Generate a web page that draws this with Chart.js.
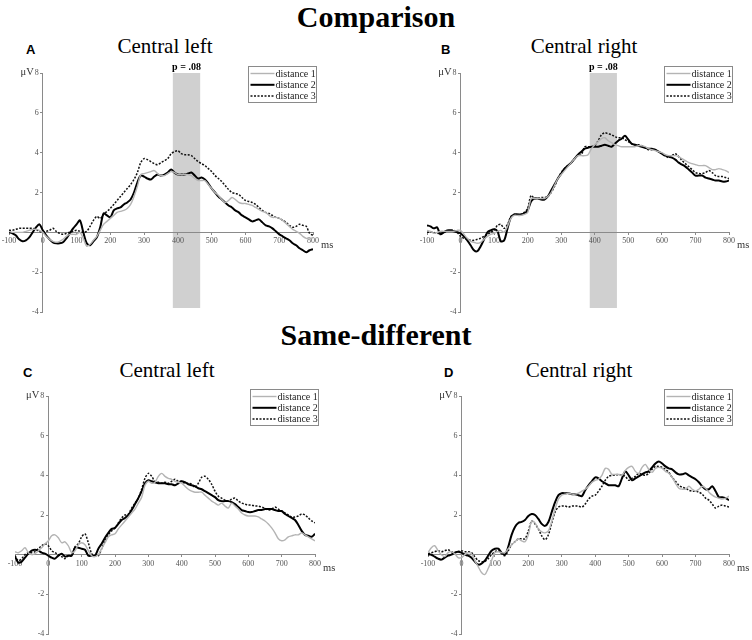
<!DOCTYPE html>
<html>
<head>
<meta charset="utf-8">
<script src="https://cdn.jsdelivr.net/npm/chart.js@4/dist/chart.umd.min.js"></script>
<style>
  html, body { margin:0; padding:0; background:#fff; width:752px; height:640px; overflow:hidden; }
  .wrap { position:absolute; }
  .big { position:absolute; left:0; width:752px; text-align:center; font-family:"Liberation Serif", serif; font-weight:bold; font-size:30px; line-height:30px; color:#000; }
  .ptitle { position:absolute; width:200px; text-align:center; font-family:"Liberation Serif", serif; font-size:21px; line-height:21px; color:#000; }
  .letter { position:absolute; font-family:"Liberation Sans", Arial, sans-serif; font-weight:bold; font-size:13px; line-height:13px; color:#000; }
</style>
</head>
<body>
<div class="big" style="top:2px;">Comparison</div>
<div class="big" style="top:320px;">Same-different</div>
<div class="letter" style="left:26px; top:43px;">A</div>
<div class="letter" style="left:441px; top:43px;">B</div>
<div class="letter" style="left:23px; top:366px;">C</div>
<div class="letter" style="left:444px; top:366px;">D</div>
<div class="ptitle" style="left:65px; top:36px;">Central left</div>
<div class="ptitle" style="left:484px; top:36px;">Central right</div>
<div class="ptitle" style="left:67px; top:360px;">Central left</div>
<div class="ptitle" style="left:479px; top:360px;">Central right</div>

<div class="wrap" style="left:-11px; top:48px; width:364px; height:284px;"><canvas id="cA"></canvas></div>
<div class="wrap" style="left:407px; top:48px; width:362px; height:284px;"><canvas id="cB"></canvas></div>
<div class="wrap" style="left:-5px; top:371px; width:360px; height:283px;"><canvas id="cC"></canvas></div>
<div class="wrap" style="left:408px; top:371px; width:361px; height:283px;"><canvas id="cD"></canvas></div>

<script>
// ---------- data ----------
const times = [-100,-90,-80,-70,-60,-50,-40,-30,-20,-10,
  0,10,20,30,40,50,60,70,80,90,
  100,110,120,130,140,150,160,170,180,190,
  200,210,220,230,240,250,260,270,280,290,
  300,310,320,330,340,350,360,370,380,390,
  400,410,420,430,440,450,460,470,480,490,
  500,510,520,530,540,550,560,570,580,590,
  600,610,620,630,640,650,660,670,680,690,
  700,710,720,730,740,750,760,770,780,790,
  800];

const seriesNames = ["distance 1", "distance 2", "distance 3"];
const xTicks = [-100,0,100,200,300,400,500,600,700,800];
const yTicks = [-4,-2,0,2,4,6,8];
const sigWindow = [385, 466];   // shaded interval (ms)
const sigLabel = "p = .08";

// Panel A: Comparison, central left
const compLeft1 = [0.05,0.0,0.0,0.0,0.0,0.05,0.1,0.15,0.15,0.1,
  0.0,-0.2,-0.35,-0.45,-0.5,-0.45,-0.35,-0.2,-0.1,-0.1,
  -0.1,0.0,-0.3,-0.7,-0.6,-0.4,-0.2,0.1,0.4,0.55,
  0.7,0.85,1.0,1.05,1.1,1.2,1.4,1.8,2.3,2.9,
  2.95,3.0,3.05,3.1,2.95,2.85,2.85,2.95,3.05,3.0,
  2.9,2.9,2.9,2.9,2.85,2.7,2.6,2.6,2.6,2.4,
  2.2,2.0,1.85,1.65,1.5,1.6,1.75,1.65,1.5,1.45,
  1.45,1.4,1.35,1.25,1.15,1.05,1.0,0.85,0.75,0.75,
  0.7,0.6,0.45,0.3,0.15,0.05,-0.05,-0.2,-0.3,-0.35,
  -0.25];
const compLeft2 = [0.0,-0.05,-0.15,-0.35,-0.45,-0.4,-0.25,0.0,0.25,0.4,
  0.1,-0.15,-0.35,-0.5,-0.55,-0.55,-0.5,-0.3,-0.05,0.2,
  0.4,0.6,0.0,-0.55,-0.65,-0.45,-0.25,0.25,0.95,0.85,
  0.75,1.1,1.2,1.25,1.4,1.5,1.65,2.0,2.5,2.85,
  2.8,2.7,2.65,2.8,2.9,2.85,2.9,3.0,3.15,3.0,
  2.9,2.9,2.9,2.95,3.0,2.85,2.7,2.75,2.65,2.45,
  2.2,2.0,1.8,1.65,1.5,1.35,1.25,1.1,1.0,0.85,
  0.75,0.65,0.55,0.6,0.65,0.5,0.35,0.3,0.2,0.05,
  -0.1,-0.2,-0.3,-0.4,-0.55,-0.65,-0.8,-0.9,-1.0,-0.9,
  -0.85];
const compLeft3 = [0.1,0.1,0.15,0.2,0.2,0.2,0.2,0.2,0.15,0.05,
  0.0,0.05,0.1,0.2,0.05,-0.05,-0.1,-0.05,0.0,0.05,
  0.1,0.05,0.0,0.05,0.3,0.6,0.8,0.7,0.9,1.05,
  1.2,1.4,1.6,1.8,2.0,2.2,2.4,2.65,3.0,3.5,
  3.7,3.65,3.55,3.45,3.4,3.5,3.6,3.7,3.95,4.05,
  4.1,3.95,3.9,3.9,3.85,3.7,3.55,3.45,3.35,3.2,
  3.05,2.85,2.7,2.55,2.35,2.15,2.0,1.95,1.9,1.75,
  1.6,1.55,1.5,1.4,1.25,1.1,1.0,0.95,0.85,0.75,
  0.7,0.6,0.5,0.35,0.25,0.3,0.4,0.35,0.3,-0.05,
  -0.15];

// Panel B: Comparison, central right
const compRight1 = [0.1,0.05,-0.05,0.0,0.05,0.05,0.05,0.05,0.05,0.1,
  0.1,-0.1,-0.3,-0.45,-0.5,-0.55,-0.5,-0.35,-0.2,-0.1,
  -0.05,0.05,0.1,0.0,0.3,0.7,0.85,0.85,0.85,0.9,
  1.0,1.7,1.7,1.7,1.7,1.7,1.8,2.0,2.35,2.7,
  2.9,3.1,3.3,3.5,3.7,3.85,3.85,3.85,3.9,4.2,
  4.4,4.55,4.7,4.75,4.6,4.5,4.4,4.35,4.3,4.3,
  4.3,4.3,4.3,4.35,4.35,4.3,4.2,4.15,4.1,4.05,
  4.0,3.9,3.85,3.85,3.85,3.8,3.7,3.6,3.5,3.45,
  3.4,3.35,3.35,3.35,3.25,3.15,3.15,3.2,3.15,3.1,
  3.0];
const compRight2 = [0.35,0.3,0.2,0.25,-0.1,0.0,0.1,0.1,0.05,0.0,
  -0.05,-0.2,-0.4,-0.65,-0.9,-0.95,-0.7,-0.35,0.0,0.1,
  0.15,0.05,-0.45,-0.4,0.2,0.75,0.9,0.9,0.9,0.95,
  1.1,1.55,1.7,1.7,1.65,1.65,1.8,2.1,2.4,2.7,
  2.95,3.2,3.35,3.5,3.7,3.9,4.05,4.2,4.25,4.3,
  4.3,4.3,4.35,4.4,4.35,4.3,4.45,4.6,4.7,4.85,
  4.65,4.45,4.4,4.35,4.3,4.25,4.2,4.2,4.15,4.05,
  3.95,3.85,3.8,3.75,3.65,3.5,3.4,3.3,3.15,3.0,
  2.85,2.85,2.85,2.75,2.7,2.65,2.6,2.6,2.55,2.55,
  2.6];
const compRight3 = [0.0,0.0,0.0,-0.05,-0.05,0.0,0.05,0.1,0.1,0.0,
  -0.2,-0.3,-0.35,-0.4,-0.4,-0.35,-0.3,-0.2,-0.1,0.0,
  0.1,0.35,0.4,0.2,0.4,0.8,0.9,0.9,0.9,1.0,
  1.2,1.85,1.7,1.7,1.75,1.75,1.8,2.0,2.3,2.7,
  3.0,3.2,3.35,3.5,3.7,3.85,3.9,4.3,4.3,4.3,
  4.35,4.6,4.9,5.0,4.95,4.9,4.8,4.75,4.75,4.65,
  4.55,4.45,4.4,4.4,4.35,4.25,4.15,4.15,4.15,4.05,
  3.95,3.85,3.75,3.85,3.95,3.8,3.6,3.45,3.3,3.15,
  3.0,2.95,2.95,3.0,3.1,3.0,2.85,2.8,2.8,2.75,
  2.7];

// Panel C: Same-different, central left
const sdLeft1 = [0.15,0.1,0.2,0.35,0.1,0.0,0.05,0.2,0.35,0.55,
  0.7,0.95,1.0,0.85,0.6,0.65,0.45,0.1,0.2,0.5,
  0.6,0.5,0.2,-0.05,-0.1,0.0,0.3,0.6,0.9,1.0,
  1.05,1.3,1.5,1.7,1.9,2.1,2.3,2.6,2.9,3.5,
  3.7,3.6,3.65,3.95,4.1,3.95,3.85,3.8,3.7,3.65,
  3.6,3.45,3.3,3.2,3.15,3.15,3.15,3.0,2.85,2.7,
  2.6,2.5,2.6,2.45,2.35,2.6,2.45,2.3,2.1,2.0,
  1.95,1.95,1.95,1.9,1.8,1.7,1.55,1.35,1.1,0.8,
  0.7,0.75,0.9,0.95,1.0,1.0,1.1,1.0,0.9,0.8,
  0.7];
const sdLeft2 = [-0.1,-0.4,-0.35,-0.15,0.05,0.2,0.25,0.2,0.1,0.05,
  -0.05,-0.15,-0.2,-0.05,0.05,-0.1,-0.05,-0.05,0.35,0.35,
  0.3,0.25,-0.05,-0.05,-0.05,0.3,0.55,0.85,1.1,1.3,
  1.35,1.55,1.75,1.85,2.0,2.25,2.55,2.85,3.2,3.6,
  3.75,3.7,3.65,3.6,3.6,3.6,3.55,3.55,3.5,3.6,
  3.7,3.65,3.55,3.5,3.45,3.35,3.3,3.2,3.1,3.0,
  2.9,2.75,2.7,2.7,2.7,2.65,2.55,2.4,2.25,2.2,
  2.15,2.15,2.2,2.25,2.25,2.3,2.3,2.3,2.25,2.2,
  2.2,2.05,1.95,1.85,1.75,1.5,1.2,1.0,0.95,0.9,
  1.05];
const sdLeft3 = [-0.05,-0.3,-0.2,0.0,0.1,0.1,0.15,0.3,0.45,0.55,
  0.45,0.2,0.1,0.0,-0.1,-0.2,-0.05,-0.05,0.4,0.55,
  0.9,1.05,0.6,0.05,-0.05,-0.05,0.3,0.7,1.0,1.2,
  1.35,1.6,1.85,2.0,2.05,2.35,2.6,2.85,3.3,3.85,
  4.1,3.95,3.7,3.65,3.6,3.65,3.6,3.7,3.8,3.7,
  3.7,3.6,3.6,3.55,3.4,3.6,3.9,3.95,3.8,3.55,
  3.2,2.95,2.85,2.75,2.7,2.8,2.85,2.7,2.6,2.55,
  2.5,2.5,2.45,2.45,2.4,2.35,2.25,2.3,2.4,2.3,
  2.2,2.1,2.0,1.9,1.9,1.95,2.05,2.0,1.85,1.7,
  1.6];

// Panel D: Same-different, central right
const sdRight1 = [0.1,0.35,0.45,0.2,0.0,-0.1,0.1,0.15,0.05,-0.15,
  -0.15,0.0,0.1,0.05,-0.3,-0.6,-0.9,-1.0,-0.7,-0.3,
  0.1,0.15,0.1,0.1,0.3,0.5,0.65,0.8,0.7,0.65,
  1.0,1.7,1.6,1.3,1.15,1.1,1.2,1.7,2.3,2.8,
  3.0,3.05,3.1,3.05,3.05,3.1,3.2,3.3,3.45,3.65,
  3.75,3.8,4.0,4.35,4.3,4.05,4.05,4.05,4.0,4.25,
  4.4,4.45,4.2,4.1,4.4,4.55,4.3,4.15,4.35,4.4,
  4.35,4.2,4.1,3.9,3.6,3.35,3.3,3.3,3.45,3.3,
  3.2,3.3,3.45,3.35,3.15,3.0,2.9,2.85,2.8,2.85,
  2.95];
const sdRight2 = [0.0,0.0,-0.1,-0.2,-0.25,-0.15,-0.05,0.0,0.1,0.15,
  0.1,0.0,-0.05,-0.15,-0.35,-0.5,-0.45,-0.3,-0.05,0.2,
  0.3,0.3,0.1,0.0,0.4,1.0,1.4,1.6,1.65,1.75,
  1.95,2.05,2.0,1.8,1.55,1.45,1.65,2.15,2.65,3.0,
  3.1,3.1,3.1,3.05,3.05,3.0,2.95,3.25,3.5,3.7,
  3.9,3.85,3.7,3.6,3.5,3.5,3.5,3.45,3.85,4.2,
  4.0,3.75,3.85,3.95,4.05,4.15,4.2,4.4,4.6,4.7,
  4.6,4.45,4.35,4.3,4.15,4.05,4.05,4.1,4.0,3.9,
  3.8,3.65,3.45,3.3,3.3,3.45,3.2,2.9,2.9,2.85,
  2.75];
const sdRight3 = [0.05,0.1,0.15,0.2,0.15,0.2,0.25,0.15,0.1,0.15,
  0.2,0.15,0.15,0.1,-0.1,-0.3,-0.35,-0.35,-0.2,0.0,
  0.15,0.2,0.05,-0.05,0.2,0.5,0.65,0.8,0.8,0.8,
  1.2,1.7,1.55,1.3,0.95,0.75,1.0,1.6,2.15,2.4,
  2.45,2.45,2.4,2.45,2.45,2.45,2.4,2.55,2.8,2.95,
  3.0,3.2,3.45,3.75,3.95,4.0,4.0,4.05,4.0,3.95,
  3.75,3.85,3.95,4.1,4.05,4.0,4.1,4.3,4.45,4.45,
  4.4,4.3,4.15,3.9,3.7,3.5,3.4,3.35,3.25,3.2,
  3.2,3.15,3.05,2.85,2.75,2.55,2.35,2.45,2.5,2.45,
  2.4];

// ---------- styles ----------
const lineStyles = [
  { borderColor: "#b4b4b4", borderWidth: 1.4, borderDash: [] },
  { borderColor: "#000000", borderWidth: 2.0, borderDash: [] },
  { borderColor: "#111111", borderWidth: 1.5, borderDash: [2, 1.5] }
];

const decor = {
  id: "decor",
  beforeDraw(chart, args, opts) {
    const ctx = chart.ctx, xs = chart.scales.x, ys = chart.scales.y;
    if (opts.sig) {
      const x0 = xs.getPixelForValue(opts.sig[0]), x1 = xs.getPixelForValue(opts.sig[1]);
      const y0 = ys.getPixelForValue(8), y1 = ys.getPixelForValue(-3.8);
      ctx.save();
      ctx.fillStyle = "#d0d0d0";
      ctx.fillRect(x0, y0, x1 - x0, y1 - y0);
      ctx.restore();
    }
  },
  afterDraw(chart, args, opts) {
    const ctx = chart.ctx, xs = chart.scales.x, ys = chart.scales.y, ca = chart.chartArea;
    ctx.save();
    const yTop = ys.getPixelForValue(8);
    const x0 = xs.getPixelForValue(0);
    if (opts.sig) {
      const xm = (xs.getPixelForValue(opts.sig[0]) + xs.getPixelForValue(opts.sig[1])) / 2;
      ctx.font = "bold 10px 'Liberation Serif'";
      ctx.fillStyle = "#000";
      ctx.textAlign = "center";
      ctx.textBaseline = "alphabetic";
      ctx.fillText(opts.sigLabel, xm, yTop - 3);
    }
    ctx.font = "10.5px 'Liberation Serif'";
    ctx.fillStyle = "#333";
    ctx.textAlign = "right";
    ctx.textBaseline = "alphabetic";
    ctx.fillText("\u03bcV", x0 - 9, yTop + 2);
    ctx.textAlign = "left";
    ctx.fillText("ms", xs.getPixelForValue(800) + 8, ys.getPixelForValue(0) + 16);
    const w = 68, h = 36;
    const bx = Math.round(ca.right + 3) + 0.5 - w, by = Math.round(ca.top - 7) + 0.5;
    ctx.fillStyle = "#fff";
    ctx.fillRect(bx, by, w, h);
    ctx.strokeStyle = "#8a8a8a";
    ctx.lineWidth = 1;
    ctx.setLineDash([]);
    ctx.strokeRect(bx, by, w, h);
    chart.data.datasets.forEach((ds, i) => {
      const yy = by + 7 + i * 11.3;
      ctx.beginPath();
      ctx.strokeStyle = ds.borderColor;
      ctx.lineWidth = ds.borderWidth;
      ctx.setLineDash(ds.borderDash || []);
      ctx.moveTo(bx + 2, yy);
      ctx.lineTo(bx + 26, yy);
      ctx.stroke();
      ctx.setLineDash([]);
      ctx.font = "10px 'Liberation Serif'";
      ctx.fillStyle = "#222";
      ctx.textAlign = "left";
      ctx.textBaseline = "middle";
      ctx.fillText(ds.label, bx + 27, yy + 0.5);
    });
    ctx.restore();
  }
};

function makePanel(id, series, sig) {
  const datasets = series.map((vals, i) => Object.assign({
    label: seriesNames[i],
    data: vals.map((v, k) => ({ x: times[k], y: v })),
    pointRadius: 0,
    tension: 0.3,
    fill: false
  }, lineStyles[i]));
  return new Chart(document.getElementById(id), {
    type: "line",
    data: { datasets },
    plugins: [decor],
    options: {
      responsive: true,
      maintainAspectRatio: false,
      animation: false,
      events: [],
      layout: { padding: { left: 20, right: 40, top: 25, bottom: 20 } },
      plugins: {
        legend: { display: false },
        tooltip: { enabled: false },
        decor: { sig: sig, sigLabel: sigLabel }
      },
      scales: {
        x: {
          type: "linear",
          min: -100, max: 800,
          position: { y: 0 },
          afterBuildTicks: s => { s.ticks = xTicks.map(v => ({ value: v })); },
          grid: { drawOnChartArea: false, drawTicks: true, tickLength: 2, color: "#8a8a8a" },
          border: { display: true, color: "#8a8a8a", width: 1 },
          ticks: { color: "#555", font: { family: "Liberation Serif", size: 8 }, padding: 2, maxRotation: 0, autoSkip: false }
        },
        y: {
          type: "linear",
          min: -4, max: 8,
          position: { x: 0 },
          afterBuildTicks: s => { s.ticks = yTicks.map(v => ({ value: v })); },
          grid: { drawOnChartArea: false, drawTicks: true, tickLength: 2, color: "#8a8a8a" },
          border: { display: true, color: "#8a8a8a", width: 1 },
          ticks: {
            color: "#555", font: { family: "Liberation Serif", size: 8 }, padding: 2, autoSkip: false,
            callback: v => (v === 0 ? "" : String(v) + "  ")
          }
        }
      }
    }
  });
}

makePanel("cA", [compLeft1, compLeft2, compLeft3], sigWindow);
makePanel("cB", [compRight1, compRight2, compRight3], sigWindow);
makePanel("cC", [sdLeft1, sdLeft2, sdLeft3], null);
makePanel("cD", [sdRight1, sdRight2, sdRight3], null);
</script>
</body>
</html>
